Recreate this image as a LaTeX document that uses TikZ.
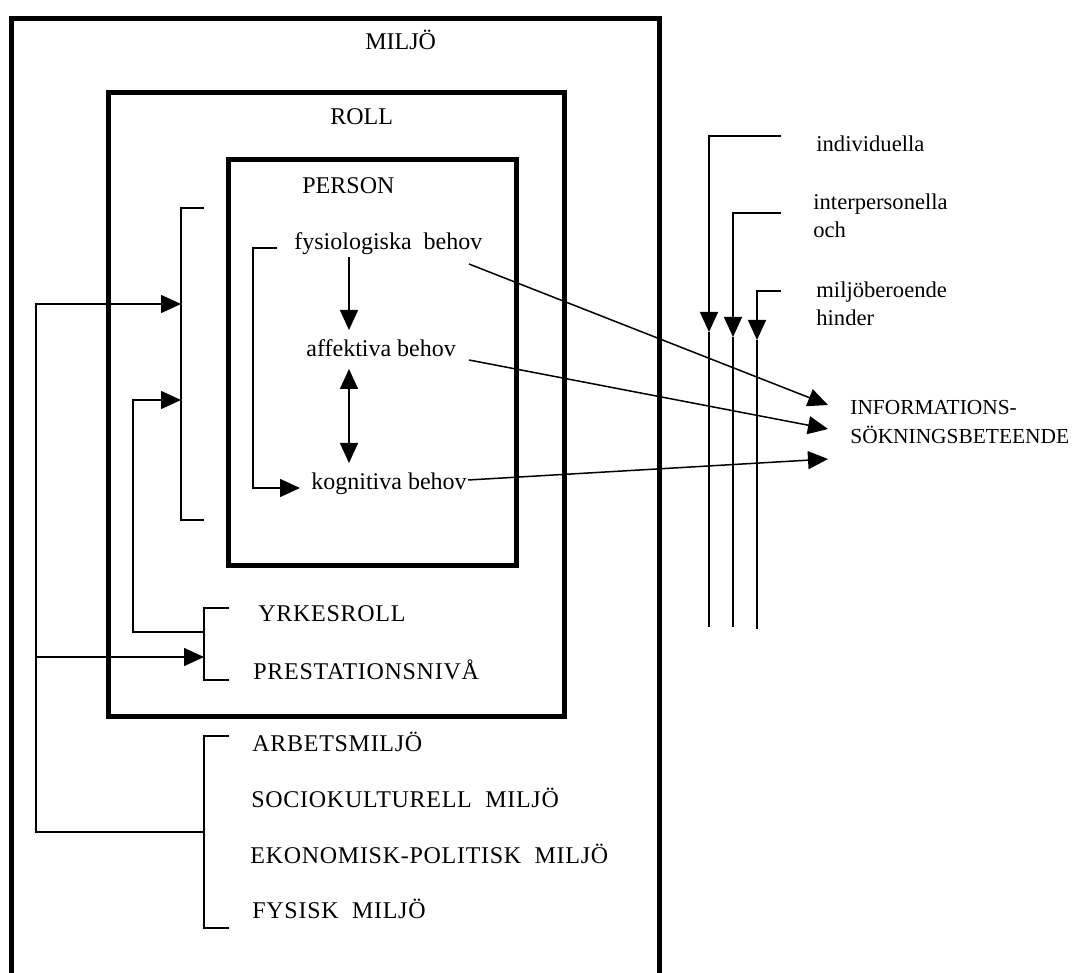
\documentclass[tikz,border=0pt]{standalone}
\usepackage{fontspec}
\setmainfont{Liberation Serif}
\usetikzlibrary{arrows.meta,calc}
\tikzset{
  frm/.style={line width=2.5pt},
  wire/.style={line width=0.75pt},
  arrw/.style={wire,-{Triangle[length=10pt,width=9pt]}},
  darrw/.style={wire,{Triangle[length=10pt,width=9pt]}-{Triangle[length=10pt,width=9pt]}},
  lbl/.style={anchor=base west,inner sep=0pt,font=\fontsize{12}{14}\selectfont},
  caps/.style={lbl,font=\fontsize{12}{14}\selectfont\addfontfeatures{LetterSpace=3}},
  side/.style={lbl,align=left,font=\fontsize{11.3}{14}\selectfont},
}

\begin{document}
\begin{tikzpicture}[x=0.5pt,y=-0.5pt]
  \useasboundingbox (0,0) rectangle (1083,973);
  % nested frames
  \draw[frm] (11,990) -- (11,18.5) -- (659,18.5) -- (659,990);
  \draw[frm] (108,92.5) rectangle (564,716);
  \draw[frm] (228,159.5) rectangle (516,565.5);

  % labels
  \node[lbl] (miljo) at (365,50) {MILJÖ};
  \node[lbl] (roll) at (330,125) {ROLL};
  \node[lbl] (person) at (302,194) {PERSON};
  \node[lbl] (fys) at (294,250) {fysiologiska\ \ behov};
  \node[lbl] (aff) at (306,357) {affektiva behov};
  \node[lbl] (kog) at (311,490) {kognitiva behov};
  \node[caps] (yrke) at (258,621) {YRKESROLL};
  \node[caps] (prest) at (253,679) {PRESTATIONSNIVÅ};
  \node[caps] (arb) at (252,751) {ARBETSMILJÖ};
  \node[caps] (soc) at (251,807) {SOCIOKULTURELL\ \ MILJÖ};
  \node[caps] (ekon) at (250,863) {EKONOMISK-POLITISK\ \ MILJÖ};
  \node[caps] (fysm) at (252,918) {FYSISK\ \ MILJÖ};
  \node[side] (indiv) at (816,152) {individuella};
  \node[side] (inter) at (813,238) {interpersonella\\och};
  \node[side] (hind) at (816,326) {miljöberoende\\hinder};
  \node[side,font=\fontsize{10.7}{14.5}\selectfont] (info) at (850,444)
    {INFORMATIONS-\\SÖKNINGSBETEENDE};

  % bracket ends and arrow tips
  \coordinate (rt) at (204,208);
  \coordinate (rb) at (204,520);
  \coordinate (rin1) at (181,304);
  \coordinate (rin2) at (181,400);
  \coordinate (yt) at (229,608);
  \coordinate (yb) at (229,680);
  \coordinate (ymid) at (204,632);
  \coordinate (yin) at (204,657);
  \coordinate (at) at (229,736);
  \coordinate (ab) at (229,928);
  \coordinate (amid) at (204,832);
  \coordinate (fbx) at (36,657);
  \coordinate (ft) at (277,248);
  \coordinate (kin) at (300,488);
  \coordinate (f1) at (349,257);
  \coordinate (a1) at (349,330);
  \coordinate (a2) at (349,369);
  \coordinate (k1) at (349,463);
  \coordinate (fo) at (469,264);
  \coordinate (ao) at (469,360);
  \coordinate (ko) at (468,480);
  \coordinate (i1) at (828,405);
  \coordinate (i2) at (828,429);
  \coordinate (i3) at (828,459);

  % brackets
  \draw[wire] (rt) -- ++(-23,0) |- (rb);
  \draw[wire] (yt) -- ++(-25,0) |- (yb);
  \draw[wire] (at) -- ++(-25,0) |- (ab);
  \draw[arrw] (ft) -- ++(-24,0) |- (kin);

  % feedback loops
  \draw[arrw] (amid) -- ++(-168,0) |- (rin1);
  \draw[arrw] (fbx) -- (yin);
  \draw[arrw] (ymid) -- ++(-71,0) |- (rin2);

  % needs
  \draw[arrw] (f1) -- (a1);
  \draw[darrw] (a2) -- (k1);
  \draw[arrw] (fo) -- (i1);
  \draw[arrw] (ao) -- (i2);
  \draw[arrw] (ko) -- (i3);

  % barriers
  \foreach \bx/\by/\tip/\bot in {709/136/332/627,733/213/337/627,757/291/340/629}{
    \draw[arrw] (781,\by) -| (\bx,\tip);
    \draw[wire] (\bx,\tip) -- (\bx,\bot);
  }
\end{tikzpicture}
\end{document}
